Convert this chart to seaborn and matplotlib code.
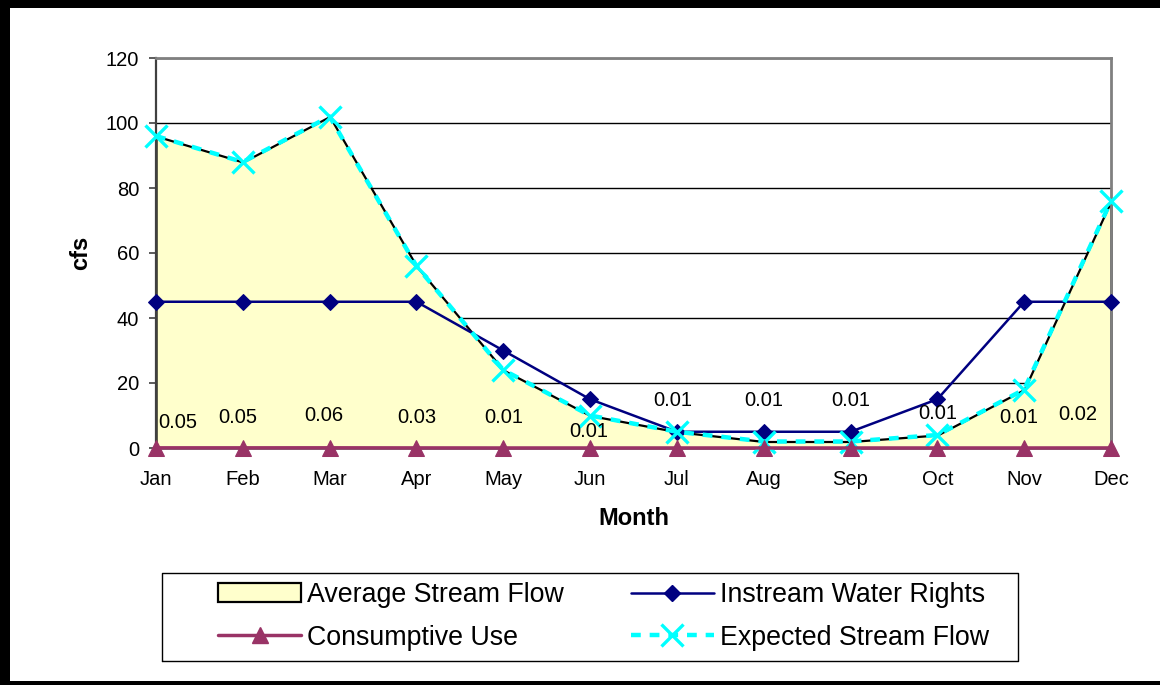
import numpy as np
import pandas as pd
import matplotlib
matplotlib.use("Agg")
import matplotlib.pyplot as plt
import seaborn as sns
from matplotlib.lines import Line2D
from matplotlib.patches import Patch, Rectangle

# Monthly values (cfs)
months = ["Jan", "Feb", "Mar", "Apr", "May", "Jun", "Jul", "Aug", "Sep", "Oct", "Nov", "Dec"]
avg_flow = [96, 88, 102, 56, 24, 10, 5, 2, 2, 4, 18, 76]
expected_flow = [96, 88, 102, 56, 24, 10, 5, 2, 2, 4, 18, 76]
instream_rights = [45, 45, 45, 45, 30, 15, 5, 5, 5, 15, 45, 45]
consumptive_use = [0.05, 0.05, 0.06, 0.03, 0.01, 0.01, 0.01, 0.01, 0.01, 0.01, 0.01, 0.02]
y_ticks = [0, 20, 40, 60, 80, 100, 120]

# label placement (offset points from each consumptive-use marker)
label_offsets = [(16, 18), (-4, 22), (-4, 23), (0, 22), (0, 22), (-1, 12),
                 (-3, 34), (0, 34), (0, 34), (0, 25), (-4, 22), (-24, 24)]

YELLOW = "#FFFFCC"
PLUM = "#993366"
NAVY = "#000080"
CYAN = "#00FFFF"

sns.set_theme(style="white")
plt.rcParams["font.family"] = ["Liberation Sans", "DejaVu Sans"]
plt.rcParams["text.color"] = "black"
plt.rcParams["axes.labelcolor"] = "black"
plt.rcParams["xtick.color"] = "black"
plt.rcParams["ytick.color"] = "black"
plt.rcParams["figure.facecolor"] = "white"
plt.rcParams["savefig.facecolor"] = "white"
plt.rcParams["savefig.transparent"] = False

df = pd.DataFrame({
    "pos": np.arange(len(months)),
    "month": months,
    "avg": avg_flow,
    "expected": expected_flow,
    "instream": instream_rights,
    "consumptive": consumptive_use,
})

W, H = 1160, 685
fig = plt.figure(figsize=(W / 100, H / 100), dpi=100)
fig.patch.set_facecolor("white")
fig.patch.set_alpha(1.0)

ax = fig.add_axes([156 / W, 1 - 448 / H, 955 / W, 390 / H])
ax.set_facecolor("white")

# Average stream flow area
ax.fill_between(df["pos"], 0, df["avg"], facecolor=YELLOW, edgecolor="black",
                linewidth=1.6, zorder=2, clip_on=False)

sns.lineplot(data=df, x="pos", y="instream", ax=ax, color=NAVY, linewidth=1.8,
             marker="D", markersize=8, markeredgecolor=NAVY, zorder=4)
sns.lineplot(data=df, x="pos", y="expected", ax=ax, color=CYAN, linewidth=3.2,
             linestyle=(0, (2.2, 2.0)), marker="x", markersize=16,
             markeredgewidth=2.4, markeredgecolor=CYAN, zorder=5)
sns.lineplot(data=df, x="pos", y="consumptive", ax=ax, color=PLUM, linewidth=2.5,
             marker="^", markersize=11, markeredgecolor=PLUM, zorder=6)
for ln in ax.lines:
    ln.set_clip_on(False)

for i, (x, v) in enumerate(zip(df["pos"], consumptive_use)):
    dx, dy = label_offsets[i]
    ax.annotate(f"{v:.2f}", (x, v), xytext=(dx, dy), textcoords="offset points",
                ha="center", va="center", fontsize=14.5, color="black", zorder=7)

ax.set_xlim(0, len(months) - 1)
ax.set_ylim(0, 120)
ax.set_xticks(df["pos"])
ax.set_xticklabels(months)
ax.set_yticks(y_ticks)
ax.tick_params(axis="x", length=0, pad=16, labelsize=14.5, labelcolor="black")
ax.tick_params(axis="y", left=True, length=5, width=1.2, color="#404040",
               direction="out", pad=7, labelsize=14.5, labelcolor="black")

ax.yaxis.grid(True, color="black", linewidth=1)
ax.xaxis.grid(False)
ax.set_axisbelow(True)

for side in ["top", "right", "bottom"]:
    ax.spines[side].set_color("#808080")
    ax.spines[side].set_linewidth(2)
ax.spines["left"].set_color("#404040")
ax.spines["left"].set_linewidth(1.6)

ax.set_xlabel("Month", fontsize=17, fontweight="bold", color="black")
ax.set_ylabel("cfs", fontsize=17, fontweight="bold", color="black")
ax.xaxis.set_label_coords(0.5, -0.151)
ax.yaxis.set_label_coords(-0.067, 0.5)

# Legend
handles = [
    Patch(facecolor=YELLOW, edgecolor="black", linewidth=1.6),
    Line2D([], [], color=PLUM, lw=2.5, marker="^", ms=11),
    Line2D([], [], color=NAVY, lw=1.8, marker="D", ms=8),
    Line2D([], [], color=CYAN, lw=3.2, ls=(0, (2.2, 2.0)), marker="x", ms=16, mew=2.4),
]
labels = ["Average Stream Flow", "Consumptive Use", "Instream Water Rights", "Expected Stream Flow"]
fig.legend(handles, labels, ncol=2, loc="upper left",
           bbox_to_anchor=(218 / W, 1 - 582 / H), frameon=False, fontsize=19.3,
           handlelength=3.1, handletextpad=0.22, columnspacing=2.5,
           labelspacing=0.62, borderpad=0, borderaxespad=0)

# Legend box and outer frame, drawn as lines in figure coordinates
box_l, box_r = 162 / W, 1018 / W
box_b, box_t = 1 - 661 / H, 1 - 573 / H
fig.add_artist(Line2D([box_l, box_r, box_r, box_l, box_l],
                      [box_b, box_b, box_t, box_t, box_b],
                      transform=fig.transFigure, color="black", linewidth=1))
fig.add_artist(Line2D([0, 1], [1 - 4 / H, 1 - 4 / H], transform=fig.transFigure,
                      color="black", linewidth=8 * 0.72, solid_capstyle="butt"))
fig.add_artist(Line2D([5 / W, 5 / W], [0, 1], transform=fig.transFigure,
                      color="black", linewidth=10 * 0.72, solid_capstyle="butt"))
fig.add_artist(Line2D([0, 1], [2.5 / H, 2.5 / H], transform=fig.transFigure,
                      color="black", linewidth=5 * 0.72, solid_capstyle="butt"))

fig.savefig("out.png", dpi=100, facecolor="white", transparent=False)
